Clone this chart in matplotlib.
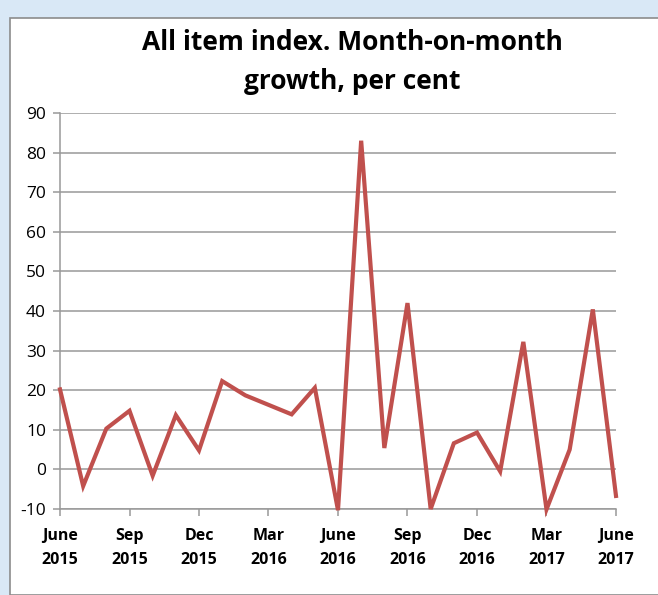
import matplotlib
matplotlib.use("Agg")
import matplotlib.pyplot as plt
from matplotlib.patches import Rectangle

# monthly growth, June 2015 .. June 2017
months = ["Jun 2015", "Jul 2015", "Aug 2015", "Sep 2015", "Oct 2015", "Nov 2015",
          "Dec 2015", "Jan 2016", "Feb 2016", "Mar 2016", "Apr 2016", "May 2016",
          "Jun 2016", "Jul 2016", "Aug 2016", "Sep 2016", "Oct 2016", "Nov 2016",
          "Dec 2016", "Jan 2017", "Feb 2017", "Mar 2017", "Apr 2017", "May 2017",
          "Jun 2017"]
growth = [20.2, -4.2, 10.3, 14.8, -1.6, 13.7, 4.8, 22.3, 18.7, 16.3, 13.9, 20.6,
          -10.3, 83.0, 5.4, 42.0, -10.0, 6.6, 9.3, -0.5, 32.2, -10.1, 5.0, 40.4,
          -6.7]
tick_labels = ["June\n2015", "Sep\n2015", "Dec\n2015", "Mar\n2016", "June\n2016",
               "Sep\n2016", "Dec\n2016", "Mar\n2017", "June\n2017"]
y_ticks = [-10, 0, 10, 20, 30, 40, 50, 60, 70, 80, 90]

plt.rcParams['font.family'] = ['Open Sans', 'DejaVu Sans']

fig = plt.figure(figsize=(6.58, 5.95), dpi=100, facecolor='#d9e8f6')
# white chart box on the slide background
fig.patches.append(Rectangle((10 / 658, 0), 1, 1 - 18 / 595, transform=fig.transFigure,
                             facecolor='white', edgecolor='#8c8c8c', linewidth=1.2,
                             zorder=-10))

ax = fig.add_axes([60 / 658, 1 - 509 / 595, (616 - 60) / 658, (509 - 113) / 595])
ax.set_facecolor('white')
ax.set_zorder(5)

x = list(range(len(months)))
ax.plot(x, growth, color='#c0504d', linewidth=3.0, solid_joinstyle='miter', clip_on=False,
        zorder=3)

ax.set_xlim(0, len(months) - 1)
ax.set_ylim(-10, 90)
ax.set_yticks(y_ticks)
ax.set_yticklabels([str(v) for v in y_ticks], fontsize=12.5)
ax.set_xticks(x[::3])
ax.set_xticklabels(tick_labels, fontsize=11.5, fontweight='bold', linespacing=1.65)

ax.grid(axis='y', color='#999999', linewidth=1.1)
ax.set_axisbelow(True)
for s in ['top', 'right']:
    ax.spines[s].set_visible(False)
for s in ['left', 'bottom']:
    ax.spines[s].set_color('#999999')
    ax.spines[s].set_linewidth(1.1)
ax.tick_params(axis='both', color='#999999', length=5, width=1.1)
ax.tick_params(axis='x', pad=9)
ax.tick_params(axis='y', pad=5)

fig.text(352 / 658, 1 - 62 / 595, "All item index. Month-on-month\ngrowth, per cent",
         ha='center', va='center', fontsize=19, fontweight='bold', linespacing=1.6)

fig.savefig("out.png", dpi=100, facecolor=fig.get_facecolor())
